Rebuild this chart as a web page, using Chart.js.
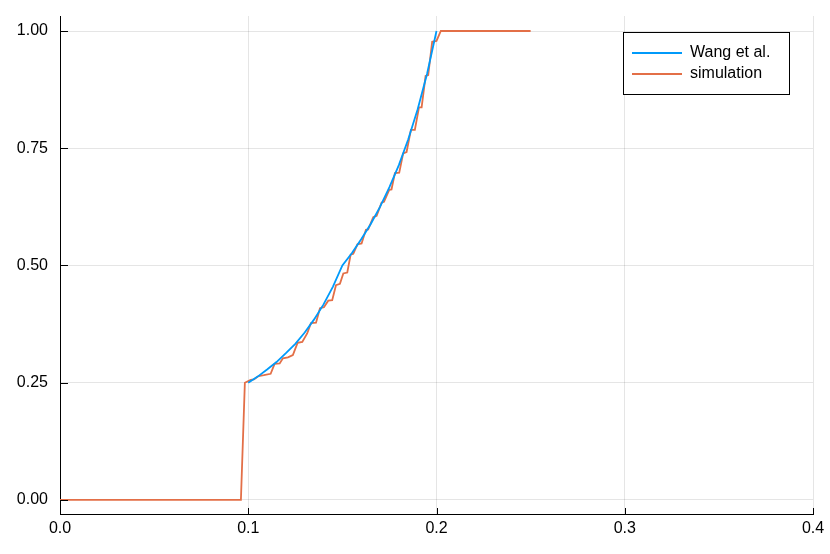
<!DOCTYPE html>
<html>
<head>
<meta charset="utf-8">
<script src="https://cdn.jsdelivr.net/npm/chart.js@4/dist/chart.umd.min.js"></script>
<style>
    html, body { margin: 0; padding: 0; background: #fff; }
    #wrap { width: 830px; height: 554px; }
</style>
</head>
<body>
<div id="wrap"><canvas id="chart"></canvas></div>
<script>
// Data
const wangX = [0.100, 0.105, 0.110, 0.115, 0.120, 0.125, 0.130, 0.135, 0.140, 0.145, 0.150,
               0.155, 0.160, 0.165, 0.170, 0.175, 0.180, 0.185, 0.190, 0.195, 0.200];
const wangY = [0.250, 0.263, 0.278, 0.294, 0.313, 0.333, 0.357, 0.385, 0.417, 0.455, 0.500,
               0.526, 0.556, 0.588, 0.625, 0.667, 0.714, 0.769, 0.833, 0.909, 1.000];

const simX = [0.000, 0.0961, 0.0982, 0.1013, 0.1030, 0.1055, 0.1083, 0.1119, 0.1140, 0.1167,
              0.1184, 0.1211, 0.1237, 0.1262, 0.1287, 0.1313, 0.1333, 0.1360, 0.1381, 0.1402,
              0.1425, 0.1446, 0.1466, 0.1487, 0.1505, 0.1526, 0.1544, 0.1558, 0.1580, 0.1602,
              0.1625, 0.1637, 0.1664, 0.1682, 0.1708, 0.1721, 0.1749, 0.1761, 0.1779, 0.1802,
              0.1823, 0.1841, 0.1864, 0.1885, 0.1907, 0.1921, 0.1942, 0.1956, 0.1977, 0.2000,
              0.2023, 0.2500];
const simY = [0.000, 0.000, 0.250, 0.256, 0.257, 0.264, 0.266, 0.269, 0.290, 0.291,
              0.302, 0.304, 0.309, 0.335, 0.337, 0.355, 0.377, 0.378, 0.409, 0.411,
              0.425, 0.426, 0.458, 0.461, 0.483, 0.485, 0.523, 0.525, 0.545, 0.547,
              0.576, 0.577, 0.603, 0.606, 0.634, 0.636, 0.661, 0.662, 0.697, 0.698,
              0.739, 0.742, 0.789, 0.789, 0.837, 0.837, 0.904, 0.906, 0.977, 0.979,
              1.000, 1.000];

const xTicks = [0, 0.1, 0.2, 0.3, 0.4];
const yTicks = [0, 0.25, 0.5, 0.75, 1.0];

const toPoints = (xs, ys) => xs.map((x, i) => ({ x: x, y: ys[i] }));

// Short tick marks pointing into the plot, like the original
const innerTicks = {
    id: 'innerTicks',
    afterDraw(chart) {
        const { ctx, chartArea, scales } = chart;
        ctx.save();
        ctx.strokeStyle = '#000';
        ctx.lineWidth = 1;
        ctx.beginPath();
        scales.y.ticks.forEach(t => {
            const py = Math.round(scales.y.getPixelForValue(t.value)) + 0.5;
            ctx.moveTo(chartArea.left, py);
            ctx.lineTo(chartArea.left + 8, py);
        });
        scales.x.ticks.forEach(t => {
            const px = Math.round(scales.x.getPixelForValue(t.value)) + 0.5;
            ctx.moveTo(px, chartArea.bottom);
            ctx.lineTo(px, chartArea.bottom - 6);
        });
        ctx.stroke();
        ctx.restore();
    }
};

// Framed legend in the upper right corner of the plot
const boxLegend = {
    id: 'boxLegend',
    afterDraw(chart) {
        const { ctx, chartArea } = chart;
        const w = 166, h = 62;
        const left = chartArea.right - 24 - w;
        const top = chartArea.top + 16;
        ctx.save();
        ctx.fillStyle = '#fff';
        ctx.fillRect(left, top, w, h);
        ctx.strokeStyle = '#000';
        ctx.lineWidth = 1;
        ctx.strokeRect(left + 0.5, top + 0.5, w, h);
        ctx.font = '16px "Liberation Sans", Arial, sans-serif';
        ctx.textBaseline = 'middle';
        chart.data.datasets.forEach((ds, i) => {
            const y = top + 21 + i * 21;
            ctx.strokeStyle = ds.borderColor;
            ctx.lineWidth = 1.8;
            ctx.beginPath();
            ctx.moveTo(left + 9, y);
            ctx.lineTo(left + 59, y);
            ctx.stroke();
            ctx.fillStyle = '#000';
            ctx.fillText(ds.label, left + 67, y);
        });
        ctx.restore();
    }
};

Chart.defaults.font.family = '"Liberation Sans", Arial, sans-serif';
Chart.defaults.font.size = 16;
Chart.defaults.color = '#000';

new Chart(document.getElementById('chart'), {
    type: 'line',
    data: {
        datasets: [
            {
                label: 'Wang et al.',
                data: toPoints(wangX, wangY),
                borderColor: '#009AFA',
                borderWidth: 1.8,
                pointRadius: 0,
                tension: 0,
                fill: false
            },
            {
                label: 'simulation',
                data: toPoints(simX, simY),
                borderColor: '#E36F47',
                borderWidth: 1.8,
                pointRadius: 0,
                tension: 0,
                fill: false
            }
        ]
    },
    options: {
        responsive: true,
        maintainAspectRatio: false,
        animation: false,
        layout: { padding: { top: 16, right: 17, left: 0, bottom: 0 } },
        plugins: {
            legend: { display: false },
            tooltip: { enabled: false }
        },
        scales: {
            x: {
                type: 'linear',
                min: 0,
                max: 0.4,
                afterBuildTicks: scale => { scale.ticks = xTicks.map(v => ({ value: v })); },
                afterFit: scale => {
                    scale.height = 40;
                    scale.paddingLeft = 0;
                    scale.paddingRight = 0;
                },
                ticks: {
                    padding: 5,
                    maxRotation: 0,
                    callback: v => v.toFixed(1)
                },
                grid: { color: 'rgba(0,0,0,0.1)', drawTicks: false },
                border: { display: true, color: '#000', width: 1 }
            },
            y: {
                type: 'linear',
                min: -0.03,
                max: 1.032,
                afterBuildTicks: scale => { scale.ticks = yTicks.map(v => ({ value: v })); },
                afterFit: scale => {
                    scale.width = 60;
                    scale.paddingTop = 0;
                    scale.paddingBottom = 0;
                },
                ticks: {
                    padding: 12,
                    callback: v => v.toFixed(2)
                },
                grid: { color: 'rgba(0,0,0,0.1)', drawTicks: false },
                border: { display: true, color: '#000', width: 1 }
            }
        }
    },
    plugins: [innerTicks, boxLegend]
});
</script>
</body>
</html>
